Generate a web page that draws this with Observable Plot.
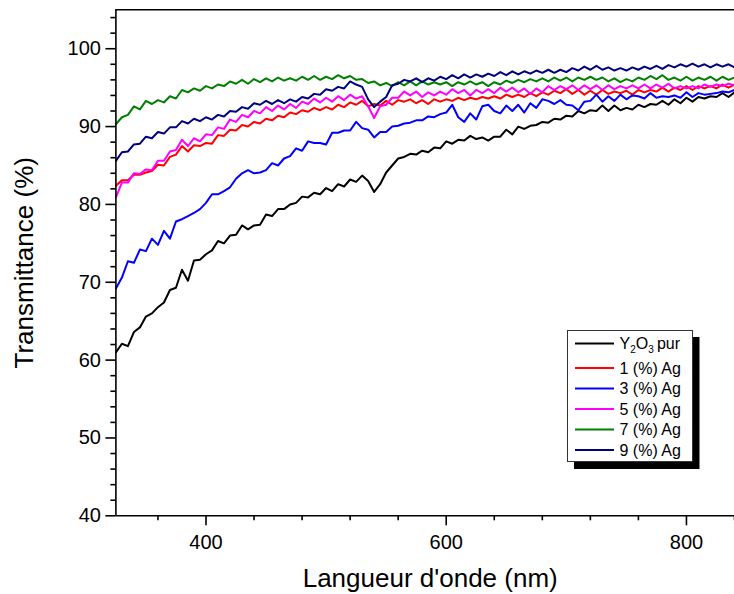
<!DOCTYPE html>
<html>
<head>
<meta charset="utf-8">
<script src="https://cdn.jsdelivr.net/npm/d3@7"></script>
<script src="https://cdn.jsdelivr.net/npm/@observablehq/plot@0.6"></script>
<style>
  html, body { margin: 0; padding: 0; background: #fff; }
  #chart { width: 734px; height: 594px; overflow: hidden; }
</style>
</head>
<body>
<div id="chart"></div>
<script>
// ---- Data ----
const wavelength = [325,330,335,340,345,350,355,360,365,370,375,380,385,390,395,400,405,410,415,420,425,430,435,440,445,450,455,460,465,470,475,480,485,490,495,500,505,510,515,520,525,530,535,540,545,550,555,560,565,570,575,580,585,590,595,600,605,610,615,620,625,630,635,640,645,650,655,660,665,670,675,680,685,690,695,700,705,710,715,720,725,730,735,740,745,750,755,760,765,770,775,780,785,790,795,800,805,810,815,820,825,830,835,840];

const y2o3Pur = [61.0,62.1,61.8,63.6,64.2,65.6,66.0,66.8,67.4,69.0,
69.3,71.6,70.2,72.8,72.9,73.6,74.1,75.3,75.0,76.0,
76.1,77.3,76.8,77.3,77.4,78.7,78.5,79.4,79.4,80.0,
80.2,81.0,80.9,81.5,81.3,82.1,81.7,82.6,82.3,83.2,
82.9,83.7,83.0,81.6,82.6,84.1,85.0,85.9,86.1,86.5,
86.4,86.9,86.7,87.3,87.2,88.1,87.8,88.3,88.2,88.8,
88.4,88.6,88.2,88.7,88.7,89.6,89.0,90.0,89.7,90.1,
90.2,90.6,90.5,91.0,90.9,91.4,91.3,92.0,91.7,92.1,
92.0,92.7,92.0,92.7,92.1,92.4,92.2,92.8,92.5,92.9,
92.8,93.3,92.8,93.5,93.0,93.7,93.2,93.8,93.6,93.9,
93.8,94.3,93.8,94.4];

const ag1 = [82.4,83.1,83.1,83.8,83.8,84.1,84.3,85.1,85.0,86.1,
86.4,87.5,86.8,87.6,87.5,87.9,87.8,88.9,88.8,89.6,
89.5,90.2,90.0,90.6,90.4,91.0,90.8,91.4,91.2,91.8,
91.6,92.1,91.9,92.4,92.1,92.5,92.2,92.8,92.5,93.1,
92.8,93.3,92.6,92.9,92.7,93.3,92.8,93.4,93.2,93.5,
93.0,93.4,92.9,93.5,93.2,93.5,93.3,93.7,93.4,93.7,
93.5,93.8,93.6,93.9,93.6,94.1,93.8,94.1,93.8,94.3,
93.9,94.4,94.1,94.6,94.3,94.8,94.2,94.7,94.1,94.6,
94.1,94.7,94.2,94.5,94.3,94.6,94.1,94.7,94.4,94.7,
94.5,95.0,94.5,95.0,94.7,95.2,94.7,95.2,94.9,95.2,
94.9,95.4,95.0,95.4];

const ag3 = [69.2,70.6,72.7,72.5,74.2,74.0,75.6,74.8,76.6,75.6,
77.8,78.1,78.5,78.9,79.4,80.2,81.3,81.3,81.7,82.2,
83.3,84.0,84.4,84.0,84.1,84.4,85.3,85.0,85.9,86.2,
87.2,86.9,88.1,87.9,87.9,87.7,89.2,89.2,89.5,89.5,
90.6,89.8,89.6,88.6,89.3,89.3,90.0,90.1,90.4,90.5,
90.8,90.8,91.3,91.2,91.6,91.8,92.8,91.2,90.6,91.7,
90.9,92.6,92.8,92.0,91.7,92.7,92.0,92.8,91.8,93.0,
92.4,93.5,93.3,92.9,93.4,92.8,92.7,92.1,93.2,93.3,
94.1,93.2,93.9,93.3,94.1,93.5,94.0,93.9,93.6,94.3,
93.7,93.9,93.8,94.0,93.7,94.4,93.8,94.3,94.1,94.2,
94.3,94.5,94.4,94.7];

const ag5 = [80.9,82.8,82.8,84.0,83.9,84.5,84.4,85.6,85.6,86.8,
87.0,88.3,87.5,88.5,88.1,89.0,88.9,89.9,89.7,90.9,
90.6,91.5,91.2,92.0,91.7,92.5,92.0,92.7,92.2,92.9,
92.4,93.2,92.9,93.6,93.1,93.7,93.2,93.9,93.4,94.1,
93.6,93.9,92.6,91.1,92.6,92.8,93.7,93.7,94.5,94.0,
94.5,93.8,94.4,94.0,94.5,94.1,94.8,94.3,94.7,94.0,
94.7,94.3,94.8,94.3,95.0,94.5,95.0,94.4,94.9,94.2,
94.9,94.4,95.2,94.7,95.2,94.8,95.3,94.7,95.3,94.8,
95.3,94.7,95.3,94.8,95.2,94.9,95.3,94.9,95.4,94.9,
95.4,95.0,95.5,94.9,95.2,94.9,95.2,94.9,95.4,95.1,
95.4,95.2,95.5,95.3];

const ag7 = [90.3,91.2,91.5,92.6,92.2,93.3,92.9,93.4,93.1,93.9,
93.6,94.7,94.4,94.9,94.6,95.2,94.9,95.4,95.2,95.8,
95.5,96.0,95.5,96.1,95.7,96.2,95.8,96.3,95.9,96.2,
95.9,96.4,96.0,96.5,96.0,96.4,96.1,96.6,96.2,96.5,
96.0,96.1,95.6,95.8,95.3,95.6,95.2,95.7,95.3,95.8,
95.3,95.8,95.4,95.7,95.4,95.7,95.2,95.7,95.4,95.8,
95.4,95.7,95.2,95.7,95.4,95.9,95.6,96.0,95.7,96.1,
95.8,96.2,95.8,96.3,95.9,96.3,95.8,96.3,96.0,96.4,
96.0,96.3,95.8,96.2,95.7,96.1,95.8,96.3,96.0,96.5,
96.1,96.6,96.0,96.3,95.9,96.4,95.9,96.3,96.0,96.4,
95.9,96.4,96.0,96.3];

const ag9 = [85.6,86.7,86.8,87.7,87.8,88.7,88.5,89.3,89.1,89.9,
89.9,90.7,90.4,91.0,90.7,91.2,90.9,91.5,91.3,92.0,
91.9,92.5,92.3,93.0,92.8,93.3,92.9,93.4,93.0,93.5,
93.2,93.8,93.6,94.2,94.1,94.8,94.6,95.1,94.9,95.8,
95.4,95.1,93.5,92.5,93.2,93.8,95.3,95.5,96.0,95.8,
96.2,95.7,96.2,95.9,96.4,96.1,96.6,96.2,96.7,96.3,
96.7,96.4,96.8,96.5,97.0,96.6,97.1,96.7,97.1,96.8,
97.2,96.9,97.3,96.9,97.3,97.0,97.5,97.2,97.7,97.3,
97.8,97.3,97.6,97.2,97.5,97.2,97.6,97.3,97.7,97.4,
97.8,97.4,97.9,97.6,98.0,97.7,98.1,97.7,98.0,97.6,
98.0,97.7,98.0,97.6];

const seriesNames = ["Y2O3 pur", "1 (%) Ag", "3 (%) Ag", "5 (%) Ag", "7 (%) Ag", "9 (%) Ag"];
const seriesValues = [y2o3Pur, ag1, ag3, ag5, ag7, ag9];
const seriesColors = ["#000000", "#ff0000", "#0000ff", "#ff00ff", "#008000", "#000080"];

const xMajorTicks = [400, 600, 800];
const xMinorTicks = [360, 440, 480, 520, 560, 640, 680, 720, 760, 840];
const yMajorTicks = [40, 50, 60, 70, 80, 90, 100];
const yMinorTicks = [42, 44, 46, 48, 52, 54, 56, 58, 62, 64, 66, 68, 72, 74, 76, 78, 82, 84, 86, 88, 92, 94, 96, 98, 102, 104];

const xLabel = "Langueur d'onde (nm)";
const yLabel = "Transmittance (%)";

// ---- Table built from the arrays ----
const rows = [];
seriesNames.forEach((name, i) => {
  seriesValues[i].forEach((v, j) => rows.push({wl: wavelength[j], T: v, s: name}));
});

const FONT = "'Liberation Sans', Arial, Helvetica, sans-serif";

const plot = Plot.plot({
  width: 734,
  height: 594,
  marginLeft: 115.4,
  marginRight: 0,
  marginTop: 9.3,
  marginBottom: 78.7,
  style: {fontFamily: FONT, color: "#000", background: "#fff", overflow: "visible"},
  x: {domain: [325, 840]},
  y: {domain: [40, 105]},
  color: {domain: seriesNames, range: seriesColors},
  marks: [
    Plot.line(rows, {x: "wl", y: "T", z: "s", stroke: "s", strokeWidth: 2, strokeLinejoin: "round", clip: true}),
    Plot.ruleX([325], {stroke: "#000", strokeWidth: 1.6}),
    Plot.ruleY([40], {stroke: "#000", strokeWidth: 1.6}),
    Plot.ruleY([105], {stroke: "#000", strokeWidth: 1.6}),
    Plot.axisX(xMajorTicks, {tickSize: 10, tickPadding: 9, fontSize: 20, strokeWidth: 1.6, label: null}),
    Plot.axisX(xMinorTicks, {tickSize: 5, text: null, strokeWidth: 1.6, label: null}),
    Plot.axisY(yMajorTicks, {tickSize: 10, tickPadding: 5, fontSize: 20, strokeWidth: 1.6, label: null}),
    Plot.axisY(yMinorTicks, {tickSize: 5, text: null, strokeWidth: 1.6, label: null}),
    Plot.text([yLabel], {frameAnchor: "left", rotate: -90, dx: -91, fontSize: 26, textAnchor: "middle", lineAnchor: "middle", fill: "#000"}),
    Plot.text([xLabel], {frameAnchor: "bottom", dy: 63, dx: 5, fontSize: 26, textAnchor: "middle", lineAnchor: "middle", fill: "#000"})
  ]
});

document.getElementById("chart").appendChild(plot);

// ---- Legend box (Origin-style with shadow) ----
const color = plot.scale("color");
const svg = d3.select(plot);
const lg = svg.append("g").attr("font-family", FONT).attr("font-size", 16).attr("text-anchor", "start");
lg.append("rect").attr("x", 574).attr("y", 337).attr("width", 125.5).attr("height", 132).attr("fill", "#000");
lg.append("rect").attr("x", 567.5).attr("y", 330.5).attr("width", 125).attr("height", 131)
  .attr("fill", "#fff").attr("stroke", "#333").attr("stroke-width", 1);
const rowY = [343.5, 368, 388.5, 409, 429.5, 450];
seriesNames.forEach((name, i) => {
  const y = rowY[i];
  lg.append("line").attr("x1", 575).attr("x2", 614).attr("y1", y).attr("y2", y)
    .attr("stroke", color.range[i]).attr("stroke-width", 2);
  const t = lg.append("text").attr("x", 619.5).attr("y", y).attr("dy", "0.36em")
    .attr("fill", "#000").attr("text-anchor", "start");
  if (i === 0) {
    t.append("tspan").text("Y");
    t.append("tspan").attr("font-size", 10).attr("dy", 4).text("2");
    t.append("tspan").attr("dy", -4).text("O");
    t.append("tspan").attr("font-size", 10).attr("dy", 4).text("3");
    t.append("tspan").attr("dy", -4).text("\u2009pur");
  } else {
    t.text(name);
  }
});
</script>
</body>
</html>
